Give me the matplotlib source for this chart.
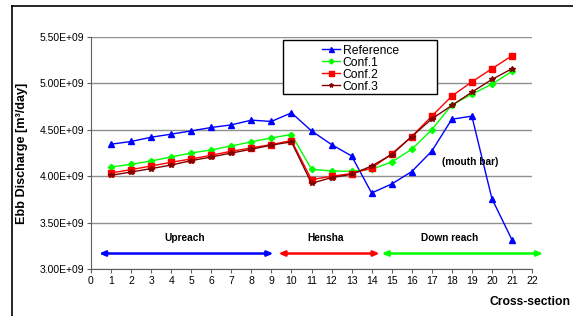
import numpy as np
import matplotlib
matplotlib.use('Agg')
from matplotlib import pyplot as plt
from matplotlib.ticker import FuncFormatter
from matplotlib.patches import Rectangle
from matplotlib.lines import Line2D

plt.rcParams['font.family'] = ['Liberation Sans', 'DejaVu Sans']

# cross-section numbers and discharge values [m3/day]
sections = list(range(1, 22))
reference = [4.345, 4.374, 4.42, 4.453, 4.488, 4.525, 4.553, 4.604, 4.59, 4.683,
             4.488, 4.341, 4.218, 3.819, 3.916, 4.05, 4.27, 4.614, 4.647, 3.758, 3.315]
conf1 = [4.10, 4.128, 4.164, 4.207, 4.25, 4.283, 4.326, 4.37, 4.413, 4.449,
         4.075, 4.056, 4.053, 4.075, 4.153, 4.29, 4.50, 4.769, 4.884, 4.992, 5.13]
conf2 = [4.035, 4.071, 4.11, 4.15, 4.186, 4.226, 4.269, 4.305, 4.341, 4.384,
         3.963, 3.999, 4.028, 4.088, 4.24, 4.427, 4.647, 4.863, 5.017, 5.158, 5.298]
conf3 = [4.01, 4.045, 4.082, 4.12, 4.168, 4.207, 4.25, 4.29, 4.335, 4.37,
         3.923, 3.985, 4.02, 4.11, 4.233, 4.427, 4.618, 4.762, 4.906, 5.043, 5.158]

# reaches: (label, start, end, label x, colour)
reaches = [('Upreach', 0.4, 9.1, 4.65, '#0000ff'),
           ('Hensha', 9.35, 14.4, 11.7, '#ff0000'),
           ('Down reach', 14.5, 22.55, 17.9, '#00ff00')]

fig = plt.figure(figsize=(5.73, 3.16), dpi=100)
ax = fig.add_axes([91/573, 47/316, 441/573, 232/316])

e9 = 1e9
ax.plot(sections, np.array(reference)*e9, color='#0000ff', marker='^', ms=4.5, lw=1, label='Reference')
ax.plot(sections, np.array(conf1)*e9, color='#00ff00', marker='D', ms=3.2, lw=1, label='Conf.1')
ax.plot(sections, np.array(conf2)*e9, color='#ff0000', marker='s', ms=4.5, lw=1, label='Conf.2')
ax.plot(sections, np.array(conf3)*e9, color='#800000', marker='*', ms=3.8, lw=1, label='Conf.3')

ax.set_xlim(0, 22)
ax.set_ylim(3.0e9, 5.5e9)
ax.set_xticks(range(0, 23))
ax.set_yticks(np.arange(3.0e9, 5.51e9, 0.5e9))
ax.yaxis.set_major_formatter(FuncFormatter(lambda v, p: ('%.2E' % v)))
ax.tick_params(direction='out', length=3, labelsize=7.5, color='#606060', pad=2)
ax.grid(axis='y', color='#909090', lw=1)
for s in ['top', 'right']:
    ax.spines[s].set_visible(False)
for s in ['left', 'bottom']:
    ax.spines[s].set_color('#606060')

yarr = 3.167e9
for name, x0, x1, xt, c in reaches:
    ax.annotate('', xy=(x1, yarr), xytext=(x0, yarr), annotation_clip=False,
                arrowprops=dict(arrowstyle='<|-|>,head_length=0.35,head_width=0.15',
                                color=c, lw=1.8, shrinkA=0, shrinkB=0))
    ax.text(xt, 3.33e9, name, ha='center', va='center', fontsize=7.3, fontweight='bold')
ax.text(18.9, 4.15e9, '(mouth bar)', ha='center', va='center', fontsize=7.3, fontweight='bold')

ax.set_ylabel('Ebb Discharge [m³/day]', fontsize=9.1, fontweight='bold')
ax.yaxis.set_label_coords(-0.143, 0.5)
ax.text(0.995, -0.142, 'Cross-section', transform=ax.transAxes, ha='center', va='center',
        fontsize=8.7, fontweight='bold')

# legend box
box = Rectangle((283/573, 1 - 94/316), 154/573, 54/316, transform=fig.transFigure,
                facecolor='white', edgecolor='black', lw=1, zorder=5, clip_on=False)
ax.add_patch(box)
leg = ax.legend(loc='upper left', bbox_to_anchor=(322/573, 1 - 44.5/316), bbox_transform=fig.transFigure,
                frameon=False, fontsize=8.7, handlelength=1.45, handletextpad=0.25,
                labelspacing=0.0, borderpad=0, borderaxespad=0, markerscale=0.8)
leg.set_zorder(6)

# outer chart frame
fig.add_artist(Line2D([12/573, 12/573], [0, 1 - 5.5/316], transform=fig.transFigure, color='black', lw=1.2))
fig.add_artist(Line2D([12/573, 1], [1 - 5.5/316, 1 - 5.5/316], transform=fig.transFigure, color='black', lw=1.2))

fig.savefig('out.png', dpi=100)
